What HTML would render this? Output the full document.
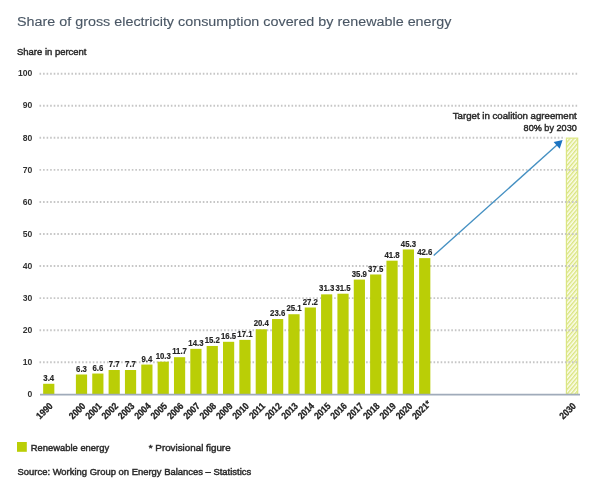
<!DOCTYPE html>
<html lang="en"><head><meta charset="utf-8"><title>Share of gross electricity consumption covered by renewable energy</title>
<style>
html,body{margin:0;padding:0;background:#fff;}
body{width:600px;height:498px;overflow:hidden;font-family:"Liberation Sans",sans-serif;}
svg{display:block;filter:blur(0.4px);}
text{font-family:"Liberation Sans",sans-serif;}
.title{font-size:13.7px;fill:#4a5765;stroke:#4a5765;stroke-width:0.12px;}
.ylab{font-size:9.8px;fill:#333;text-anchor:end;font-weight:bold;}
.val{font-size:9.7px;font-weight:bold;fill:#262626;stroke:#262626;stroke-width:0.2px;text-anchor:middle;}
.yr{font-size:9.6px;fill:#222;text-anchor:end;font-weight:bold;stroke:#222;stroke-width:0.25px;}
.sm{font-size:9.7px;fill:#2a2a2a;stroke:#2a2a2a;stroke-width:0.45px;}
</style></head><body>
<svg width="600" height="498" viewBox="0 0 600 498">
<defs>
<pattern id="hatch" width="4" height="3.0" patternUnits="userSpaceOnUse" patternTransform="rotate(-50)">
<rect width="4" height="3.0" fill="#fcfdec"/>
<rect width="4" height="1.4" fill="#d9e47e"/>
</pattern>
</defs>
<rect width="600" height="498" fill="#ffffff"/>

<text class="title" x="17" y="26" textLength="434.5" lengthAdjust="spacingAndGlyphs">Share of gross electricity consumption covered by renewable energy</text>
<text class="sm" x="17" y="54.5" textLength="69.5" lengthAdjust="spacingAndGlyphs">Share in percent</text>
<rect x="566.4" y="138.12" width="11.3" height="256.18" fill="url(#hatch)" stroke="#dbe683" stroke-width="1.2"/>
<line x1="39.5" x2="578" y1="362.24" y2="362.24" stroke="#c6c6c6" stroke-width="1.9" stroke-dasharray="1.6 1.95"/>
<line x1="39.5" x2="578" y1="330.18" y2="330.18" stroke="#c6c6c6" stroke-width="1.9" stroke-dasharray="1.6 1.95"/>
<line x1="39.5" x2="578" y1="298.12" y2="298.12" stroke="#c6c6c6" stroke-width="1.9" stroke-dasharray="1.6 1.95"/>
<line x1="39.5" x2="578" y1="266.06" y2="266.06" stroke="#c6c6c6" stroke-width="1.9" stroke-dasharray="1.6 1.95"/>
<line x1="39.5" x2="578" y1="234.00" y2="234.00" stroke="#c6c6c6" stroke-width="1.9" stroke-dasharray="1.6 1.95"/>
<line x1="39.5" x2="578" y1="201.94" y2="201.94" stroke="#c6c6c6" stroke-width="1.9" stroke-dasharray="1.6 1.95"/>
<line x1="39.5" x2="578" y1="169.88" y2="169.88" stroke="#c6c6c6" stroke-width="1.9" stroke-dasharray="1.6 1.95"/>
<line x1="39.5" x2="565" y1="137.82" y2="137.82" stroke="#c6c6c6" stroke-width="1.9" stroke-dasharray="1.6 1.95"/>
<line x1="39.5" x2="578" y1="105.76" y2="105.76" stroke="#c6c6c6" stroke-width="1.9" stroke-dasharray="1.6 1.95"/>
<line x1="39.5" x2="578" y1="73.70" y2="73.70" stroke="#c6c6c6" stroke-width="1.9" stroke-dasharray="1.6 1.95"/>
<text class="ylab" transform="translate(32.3,397.00) scale(0.88,1)">0</text>
<text class="ylab" transform="translate(32.3,364.94) scale(0.88,1)">10</text>
<text class="ylab" transform="translate(32.3,332.88) scale(0.88,1)">20</text>
<text class="ylab" transform="translate(32.3,300.82) scale(0.88,1)">30</text>
<text class="ylab" transform="translate(32.3,268.76) scale(0.88,1)">40</text>
<text class="ylab" transform="translate(32.3,236.70) scale(0.88,1)">50</text>
<text class="ylab" transform="translate(32.3,204.64) scale(0.88,1)">60</text>
<text class="ylab" transform="translate(32.3,172.58) scale(0.88,1)">70</text>
<text class="ylab" transform="translate(32.3,140.52) scale(0.88,1)">80</text>
<text class="ylab" transform="translate(32.3,108.46) scale(0.88,1)">90</text>
<text class="ylab" transform="translate(32.3,76.40) scale(0.88,1)">100</text>
<rect x="43.15" y="383.80" width="11.2" height="10.50" fill="#bace06"/>
<text class="val" transform="translate(48.75,380.90) scale(0.805,1)">3.4</text>
<text class="yr" transform="translate(53.35,406.60) rotate(-45) scale(0.88,1)">1990</text>
<rect x="75.90" y="374.50" width="11.2" height="19.80" fill="#bace06"/>
<text class="val" transform="translate(81.50,371.60) scale(0.805,1)">6.3</text>
<text class="yr" transform="translate(86.10,406.60) rotate(-45) scale(0.88,1)">2000</text>
<rect x="92.25" y="373.54" width="11.2" height="20.76" fill="#bace06"/>
<text class="val" transform="translate(97.84,370.64) scale(0.805,1)">6.6</text>
<text class="yr" transform="translate(102.44,406.60) rotate(-45) scale(0.88,1)">2001</text>
<rect x="108.59" y="370.01" width="11.2" height="24.29" fill="#bace06"/>
<text class="val" transform="translate(114.19,367.11) scale(0.805,1)">7.7</text>
<text class="yr" transform="translate(118.79,406.60) rotate(-45) scale(0.88,1)">2002</text>
<rect x="124.94" y="370.01" width="11.2" height="24.29" fill="#bace06"/>
<text class="val" transform="translate(130.53,367.11) scale(0.805,1)">7.7</text>
<text class="yr" transform="translate(135.13,406.60) rotate(-45) scale(0.88,1)">2003</text>
<rect x="141.28" y="364.56" width="11.2" height="29.74" fill="#bace06"/>
<text class="val" transform="translate(146.88,361.66) scale(0.805,1)">9.4</text>
<text class="yr" transform="translate(151.48,406.60) rotate(-45) scale(0.88,1)">2004</text>
<rect x="157.62" y="361.68" width="11.2" height="32.62" fill="#bace06"/>
<text class="val" transform="translate(163.22,358.78) scale(0.805,1)">10.3</text>
<text class="yr" transform="translate(167.82,406.60) rotate(-45) scale(0.88,1)">2005</text>
<rect x="173.97" y="357.19" width="11.2" height="37.11" fill="#bace06"/>
<text class="val" transform="translate(179.57,354.29) scale(0.805,1)">11.7</text>
<text class="yr" transform="translate(184.17,406.60) rotate(-45) scale(0.88,1)">2006</text>
<rect x="190.31" y="348.85" width="11.2" height="45.45" fill="#bace06"/>
<text class="val" transform="translate(195.91,345.95) scale(0.805,1)">14.3</text>
<text class="yr" transform="translate(200.51,406.60) rotate(-45) scale(0.88,1)">2007</text>
<rect x="206.66" y="345.97" width="11.2" height="48.33" fill="#bace06"/>
<text class="val" transform="translate(212.26,343.07) scale(0.805,1)">15.2</text>
<text class="yr" transform="translate(216.86,406.60) rotate(-45) scale(0.88,1)">2008</text>
<rect x="223.00" y="341.80" width="11.2" height="52.50" fill="#bace06"/>
<text class="val" transform="translate(228.60,338.90) scale(0.805,1)">16.5</text>
<text class="yr" transform="translate(233.20,406.60) rotate(-45) scale(0.88,1)">2009</text>
<rect x="239.35" y="339.88" width="11.2" height="54.42" fill="#bace06"/>
<text class="val" transform="translate(244.95,336.98) scale(0.805,1)">17.1</text>
<text class="yr" transform="translate(249.55,406.60) rotate(-45) scale(0.88,1)">2010</text>
<rect x="255.69" y="329.30" width="11.2" height="65.00" fill="#bace06"/>
<text class="val" transform="translate(261.29,326.40) scale(0.805,1)">20.4</text>
<text class="yr" transform="translate(265.89,406.60) rotate(-45) scale(0.88,1)">2011</text>
<rect x="272.04" y="319.04" width="11.2" height="75.26" fill="#bace06"/>
<text class="val" transform="translate(277.64,316.14) scale(0.805,1)">23.6</text>
<text class="yr" transform="translate(282.24,406.60) rotate(-45) scale(0.88,1)">2012</text>
<rect x="288.38" y="314.23" width="11.2" height="80.07" fill="#bace06"/>
<text class="val" transform="translate(293.99,311.33) scale(0.805,1)">25.1</text>
<text class="yr" transform="translate(298.59,406.60) rotate(-45) scale(0.88,1)">2013</text>
<rect x="304.73" y="307.50" width="11.2" height="86.80" fill="#bace06"/>
<text class="val" transform="translate(310.33,304.60) scale(0.805,1)">27.2</text>
<text class="yr" transform="translate(314.93,406.60) rotate(-45) scale(0.88,1)">2014</text>
<rect x="321.07" y="294.35" width="11.2" height="99.95" fill="#bace06"/>
<text class="val" transform="translate(326.67,291.45) scale(0.805,1)">31.3</text>
<text class="yr" transform="translate(331.27,406.60) rotate(-45) scale(0.88,1)">2015</text>
<rect x="337.42" y="293.71" width="11.2" height="100.59" fill="#bace06"/>
<text class="val" transform="translate(343.02,290.81) scale(0.805,1)">31.5</text>
<text class="yr" transform="translate(347.62,406.60) rotate(-45) scale(0.88,1)">2016</text>
<rect x="353.76" y="279.60" width="11.2" height="114.70" fill="#bace06"/>
<text class="val" transform="translate(359.37,276.70) scale(0.805,1)">35.9</text>
<text class="yr" transform="translate(363.97,406.60) rotate(-45) scale(0.88,1)">2017</text>
<rect x="370.11" y="274.48" width="11.2" height="119.82" fill="#bace06"/>
<text class="val" transform="translate(375.71,271.58) scale(0.805,1)">37.5</text>
<text class="yr" transform="translate(380.31,406.60) rotate(-45) scale(0.88,1)">2018</text>
<rect x="386.45" y="260.69" width="11.2" height="133.61" fill="#bace06"/>
<text class="val" transform="translate(392.05,257.79) scale(0.805,1)">41.8</text>
<text class="yr" transform="translate(396.65,406.60) rotate(-45) scale(0.88,1)">2019</text>
<rect x="402.80" y="249.47" width="11.2" height="144.83" fill="#bace06"/>
<text class="val" transform="translate(408.40,246.57) scale(0.805,1)">45.3</text>
<text class="yr" transform="translate(413.00,406.60) rotate(-45) scale(0.88,1)">2020</text>
<rect x="419.14" y="258.12" width="11.2" height="136.18" fill="#bace06"/>
<text class="val" transform="translate(424.75,255.22) scale(0.805,1)">42.6</text>
<text class="yr" transform="translate(431.55,404.40) rotate(-45) scale(0.88,1)">2021*</text>
<text class="yr" transform="translate(576.60,406.60) rotate(-45) scale(0.88,1)">2030</text>
<line x1="40" x2="580" y1="394.60" y2="394.60" stroke="#a0abba" stroke-width="1.8"/>
<line x1="433.7" y1="255.4" x2="557.5" y2="144.6" stroke="#4590c2" stroke-width="1.4"/>
<polygon points="562.6,140.1 559.7,148.8 553.6,142.1" fill="#1c74c2"/>
<text class="sm" x="576.8" y="119.3" text-anchor="end" textLength="124" lengthAdjust="spacingAndGlyphs">Target in coalition agreement</text>
<text class="sm" x="576.8" y="130.7" text-anchor="end" textLength="53.2" lengthAdjust="spacingAndGlyphs">80% by 2030</text>
<rect x="17" y="442" width="9.8" height="9.8" fill="#bace06"/>
<text class="sm" x="30.8" y="450.6" textLength="78.3" lengthAdjust="spacingAndGlyphs">Renewable energy</text>
<text class="sm" x="148.8" y="450.6" textLength="81.8" lengthAdjust="spacingAndGlyphs">* Provisional figure</text>
<text class="sm" x="17.5" y="474.5" textLength="233.7" lengthAdjust="spacingAndGlyphs">Source: Working Group on Energy Balances – Statistics</text>
</svg></body></html>
